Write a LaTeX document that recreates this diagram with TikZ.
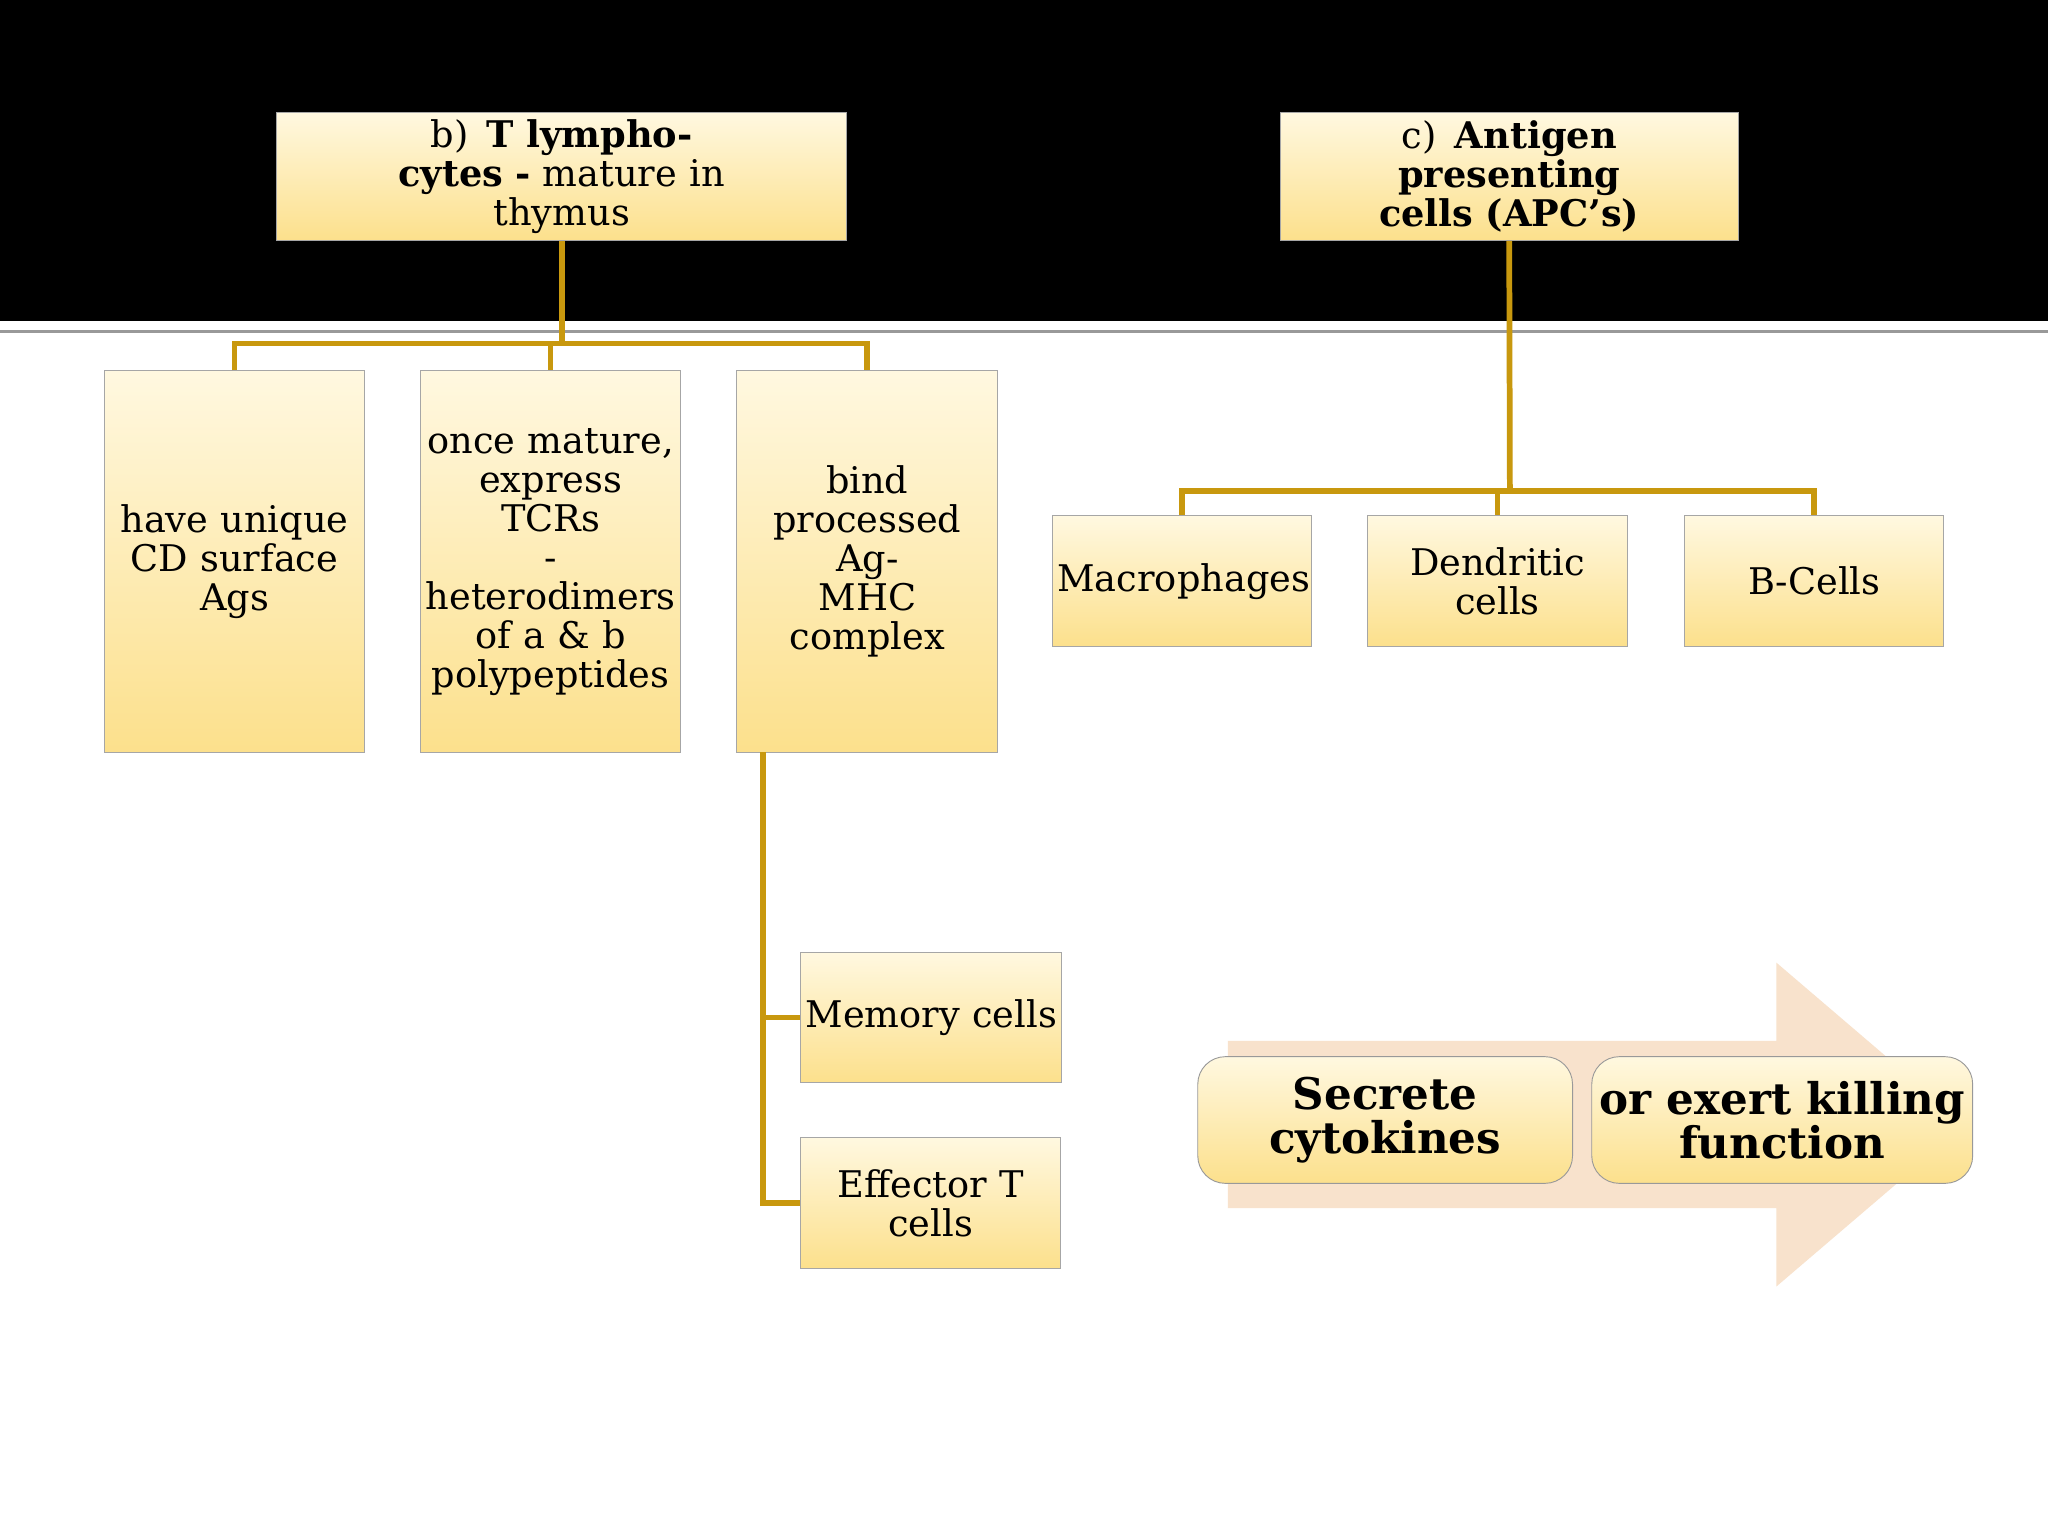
\documentclass[tikz,border=0pt]{standalone}
\usepackage{fontspec}
\setmainfont{DejaVu Serif}
\usetikzlibrary{shapes.arrows}
\definecolor{gold}{HTML}{C8980E}
\definecolor{boxtop}{HTML}{FFF8E0}
\definecolor{boxbot}{HTML}{FCE08C}
\definecolor{peach}{HTML}{F8E2CC}
\tikzset{
 bx/.style={draw=black!35, top color=boxtop, bottom color=boxbot, align=center, inner sep=2pt, font=\fontsize{16}{17}\selectfont, drop shadow/.style={}},
 ln/.style={gold, line width=2.5pt},
 rb/.style={draw=black!40, rounded corners=12pt, top color=boxtop, bottom color=boxbot, align=center, font=\fontsize{19}{19}\selectfont\bfseries}
}
\begin{document}
\begin{tikzpicture}[x=0.02cm,y=-0.02cm]
\useasboundingbox (0,0) rectangle (1568,1176);
\fill[white] (0,0) rectangle (1568,1176);
\fill[black] (0,0) rectangle (1568,246);
\draw[black!40, line width=1.5pt] (0,254) -- (1568,254);
% nodes as rectangles
\newcommand\mybox[5]{\node[bx, minimum width={(#3-#1)*0.02cm}, minimum height={(#4-#2)*0.02cm}, text width={(#3-#1)*0.02cm-4pt}] (#5) at ({(#1+#3)/2},{(#2+#4)/2})}
\mybox{212}{86}{648}{184}{t1}{b)\, \textbf{T lymphocytes -} mature in\\thymus};
\mybox{980}{86}{1331}{184}{t2}{c)\, \textbf{Antigen presenting}\\\textbf{cells (APC’s)}};
\mybox{80}{284}{279}{576}{l1}{have unique\\CD surface\\Ags};
\mybox{322}{284}{521}{576}{l2}{once mature,\\express TCRs\\-\\heterodimers\\of a \& b\\polypeptides};
\mybox{564}{284}{764}{576}{l3}{bind\\processed Ag-\\MHC complex};
\mybox{806}{395}{1004}{495}{a1}{Macrophages};
\mybox{1047}{395}{1246}{495}{a2}{Dendritic cells};
\mybox{1290}{395}{1488}{495}{a3}{B-Cells};
\mybox{613}{729}{813}{829}{m1}{Memory cells};
\mybox{613}{871}{812}{971}{m2}{Effector T\\cells};
% connectors
\coordinate (h1) at (430,263);
\draw[ln] (t1.south) -- (h1);
\draw[ln] (l1.north) |- (h1) -| (l3.north);
\draw[ln] (h1) -| (l2.north);
\coordinate (h2) at (1156,376);
\draw[ln] (t2.south) -- (h2);
\draw[ln] (a1.north) |- (h2) -| (a3.north);
\draw[ln] (h2) -| (a2.north);
\coordinate (v) at (584,576);
\draw[ln] (v) |- (m2.west);
\draw[ln] (v |- m1.west) -- (m1.west);
% arrow
\fill[peach] (940,797) -- (1360,797) -- (1360,737) -- (1505,861) -- (1360,985) -- (1360,925) -- (940,925) -- cycle;
\node[rb, minimum width=5.74cm, minimum height=1.94cm] (s1) at (1060.5,857.5) {Secrete\\cytokines};
\node[rb, minimum width=5.74cm, minimum height=1.94cm] (s2) at (1364.5,857.5) {or exert killing\\function};
\end{tikzpicture}
\end{document}
